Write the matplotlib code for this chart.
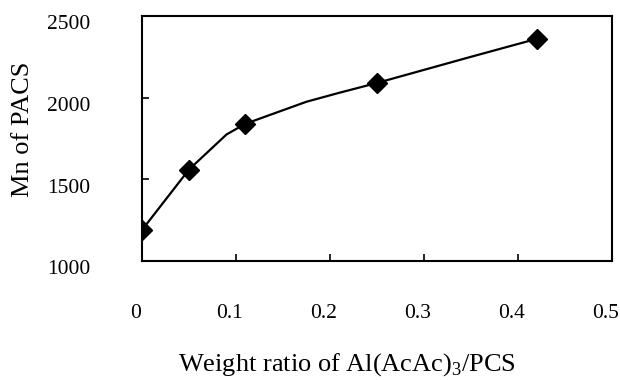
import matplotlib
matplotlib.use('Agg')
import matplotlib.pyplot as plt
import matplotlib.transforms as mtransforms

# measured points (weight ratio vs Mn)
ratio = [0.0, 0.05, 0.11, 0.25, 0.42]
mn = [1190, 1560, 1840, 2090, 2360]

# hand drawn trend curve
curve_x = [0.0, 0.05, 0.09, 0.11, 0.175, 0.21, 0.25, 0.35, 0.42]
curve_y = [1190, 1560, 1775, 1840, 1975, 2030, 2090, 2250, 2360]

xticks = [0, 0.1, 0.2, 0.3, 0.4, 0.5]
xtick_labels = ['0', '0.1', '0.2', '0.3', '0.4', '0.5']
yticks = [1000, 1500, 2000, 2500]

plt.rcParams['font.family'] = ['Liberation Serif', 'DejaVu Serif']
plt.rcParams['mathtext.fontset'] = 'custom'
plt.rcParams['mathtext.rm'] = 'Liberation Serif'

fig = plt.figure(figsize=(6.2, 3.8), dpi=100)
ax = fig.add_axes([0.229, 0.313, 0.758, 0.645])

ax.plot(curve_x, curve_y, color='black', lw=1.6, zorder=2)
ax.plot(ratio, mn, linestyle='none', marker='D', ms=10, color='black', zorder=3)

ax.set_xlim(0, 0.5)
ax.set_ylim(1000, 2500)
ax.set_xticks(xticks)
ax.set_xticklabels(xtick_labels)
ax.set_yticks(yticks)

for s in ax.spines.values():
    s.set_linewidth(1.5)

ax.tick_params(axis='both', direction='in', length=5, width=1.2, labelsize=15.5)
ax.tick_params(axis='x', pad=31)
ax.tick_params(axis='y', pad=37)

# labels sit a bit off the ticks in the original
yoff = mtransforms.ScaledTranslation(0, -4.5 / 72, fig.dpi_scale_trans)
for lab in ax.get_yticklabels():
    lab.set_transform(lab.get_transform() + yoff)
xoff = mtransforms.ScaledTranslation(-4.3 / 72, 0, fig.dpi_scale_trans)
for lab in ax.get_xticklabels():
    lab.set_transform(lab.get_transform() + xoff)

ax.set_xlabel(r'Weight ratio of Al(AcAc)$_\mathrm{3}$/PCS', fontsize=19, va='center')
ax.xaxis.set_label_coords(0.436, -0.422)
ax.set_ylabel('Mn of PACS', fontsize=19, va='center', ha='center', rotation_mode='default')
ax.yaxis.set_label_coords(-0.253, 0.537)

fig.savefig('out.png', dpi=100)
